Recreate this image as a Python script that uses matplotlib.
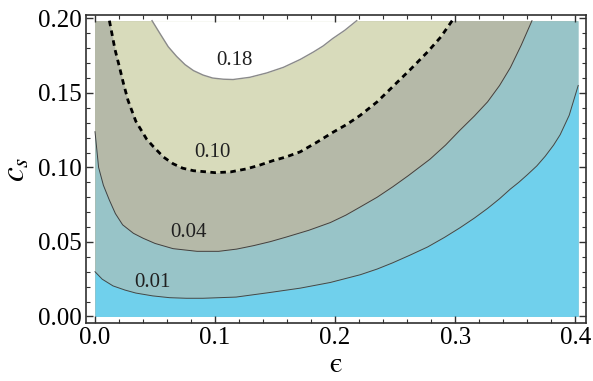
import matplotlib
matplotlib.use("Agg")
import matplotlib.pyplot as plt
from matplotlib.ticker import MultipleLocator

plt.rcParams["font.family"] = ["Liberation Serif", "DejaVu Serif"]
plt.rcParams["mathtext.fontset"] = "stix"

# contour lines: (epsilon, c_s)
eps_01 = [0.0, 0.006, 0.015, 0.025, 0.034, 0.048, 0.062, 0.076, 0.090, 0.1175, 0.145,
          0.171, 0.196, 0.221, 0.235, 0.248, 0.262, 0.277, 0.291, 0.304, 0.316,
          0.327, 0.337, 0.346, 0.353, 0.360, 0.368, 0.375, 0.382, 0.3875, 0.395, 0.4025]
cs_01 = [0.030, 0.025, 0.0205, 0.0177, 0.0157, 0.0138, 0.0126, 0.0122, 0.0122, 0.0130, 0.0160,
         0.0190, 0.0228, 0.0280, 0.0318, 0.0360, 0.0410, 0.0466, 0.0530, 0.0595, 0.0660,
         0.0725, 0.0790, 0.0855, 0.0900, 0.0950, 0.1010, 0.1075, 0.1150, 0.1220, 0.1350, 0.1550]

eps_04 = [0.0, 0.003, 0.007, 0.012, 0.017, 0.023, 0.032, 0.040, 0.050, 0.065, 0.085, 0.103,
          0.118, 0.132, 0.146, 0.159, 0.178, 0.196, 0.209, 0.221, 0.235, 0.248, 0.261,
          0.279, 0.292, 0.304, 0.316, 0.327, 0.337, 0.346, 0.355, 0.364]
cs_04 = [0.124, 0.100, 0.088, 0.078, 0.069, 0.0615, 0.0558, 0.0525, 0.049, 0.0455, 0.0437, 0.0437,
         0.0452, 0.0475, 0.0502, 0.0532, 0.0578, 0.0630, 0.0680, 0.0735, 0.0800, 0.0870, 0.0945,
         0.1055, 0.1150, 0.1250, 0.1345, 0.1440, 0.1550, 0.1670, 0.1820, 0.1985]

eps_10 = [0.012, 0.0167, 0.0205, 0.0235, 0.0275, 0.034, 0.043, 0.048, 0.057, 0.065, 0.073,
          0.082, 0.100, 0.113, 0.126, 0.137, 0.148, 0.159, 0.171, 0.185, 0.198, 0.210,
          0.221, 0.235, 0.249, 0.263, 0.277, 0.288, 0.2975]
cs_10 = [0.1985, 0.179, 0.167, 0.157, 0.145, 0.131, 0.119, 0.1145, 0.107, 0.1025, 0.0995,
         0.0978, 0.0965, 0.0970, 0.0990, 0.1015, 0.1045, 0.1070, 0.1105, 0.1170, 0.1235, 0.1290,
         0.1350, 0.1440, 0.1550, 0.1660, 0.1775, 0.1875, 0.1985]

eps_18 = [0.0475, 0.054, 0.061, 0.068, 0.075, 0.082, 0.090, 0.098, 0.107, 0.115, 0.129, 0.143,
          0.157, 0.171, 0.182, 0.190, 0.198, 0.208, 0.218]
cs_18 = [0.1985, 0.1900, 0.1810, 0.1745, 0.1690, 0.1650, 0.1620, 0.1600, 0.1592, 0.1590, 0.1605, 0.1634,
         0.1672, 0.1725, 0.1775, 0.1815, 0.1865, 0.1920, 0.1985]

levels = ["0.01", "0.04", "0.10", "0.18"]
label_eps = [0.048, 0.078, 0.098, 0.116]
label_cs = [0.023, 0.056, 0.110, 0.172]

EPS_MAX, CS_MAX = 0.4025, 0.1985

c_cyan = "#70d0ec"
c_band1 = "#98c4c8"
c_band2 = "#b5b9a8"
c_band3 = "#d8dbbb"

fig = plt.figure(figsize=(5.93, 3.81), dpi=100)
ax = fig.add_axes([86 / 593, 58 / 381, 500 / 593, 308 / 381])

# filled bands, painted from the top level downwards
ax.fill_between([0, EPS_MAX], 0, CS_MAX, color=c_band2, lw=0)
ax.fill_between(eps_10, cs_10, CS_MAX, color=c_band3, lw=0)
ax.fill_between(eps_18, cs_18, CS_MAX, color="white", lw=0)
ax.fill_between(eps_04 + [EPS_MAX], 0, cs_04 + [CS_MAX], color=c_band1, lw=0)
ax.fill_between(eps_01, 0, cs_01, color=c_cyan, lw=0)

# contour lines
ax.plot(eps_01, cs_01, color="#404848", lw=0.7)
ax.plot(eps_04, cs_04, color="#404040", lw=0.7)
ax.plot(eps_10, cs_10, color="black", lw=2.0, linestyle=(0, (2, 1.6)))
ax.plot(eps_18, cs_18, color="#8a8a8a", lw=1.0)

for txt, x, y in zip(levels, label_eps, label_cs):
    ax.text(x, y, txt, fontsize=15, ha="center", va="center", color="#202020")

ax.set_xlim(-0.0075, 0.409)
ax.set_ylim(-0.0044, 0.2023)

ax.xaxis.set_major_locator(MultipleLocator(0.1))
ax.xaxis.set_minor_locator(MultipleLocator(0.02))
ax.yaxis.set_major_locator(MultipleLocator(0.05))
ax.yaxis.set_minor_locator(MultipleLocator(0.01))
ax.xaxis.set_major_formatter(lambda v, p: f"{v:.1f}")
ax.yaxis.set_major_formatter(lambda v, p: f"{v:.2f}")

ax.tick_params(which="both", direction="in", top=True, right=True,
               colors="#303030", labelcolor="black")
ax.tick_params(which="major", length=5, width=1.0, labelsize=18, pad=3)
ax.tick_params(which="minor", length=3, width=0.8)
for s in ax.spines.values():
    s.set_color("#303030")
    s.set_linewidth(1.2)

ax.set_xlabel("\u03f5", fontsize=21, family=["STIXGeneral", "DejaVu Serif"], labelpad=3)
ax.set_ylabel(r"$c_s$", fontsize=24, labelpad=5)

fig.savefig("out.png", dpi=100)
plt.close(fig)
